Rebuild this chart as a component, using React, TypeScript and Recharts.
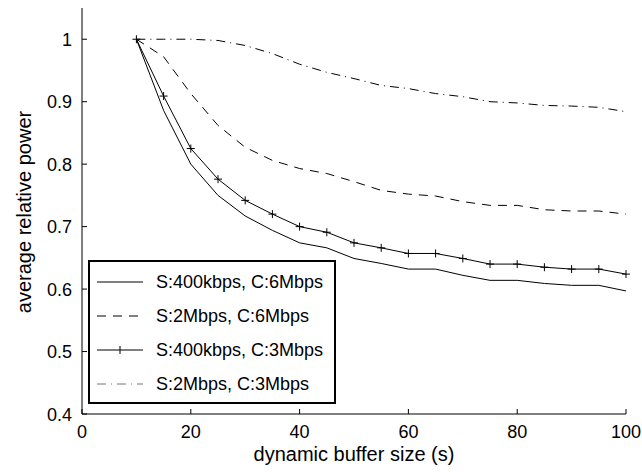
import { CartesianGrid, Legend, Line, LineChart, XAxis, YAxis } from "recharts";

// buffer sizes (s) on the x axis
const bufferSizes = [10, 15, 20, 25, 30, 35, 40, 45, 50, 55, 60, 65, 70, 75, 80, 85, 90, 95, 100];

// average relative power per configuration
const s400c6 = [1, 0.886, 0.8, 0.75, 0.717, 0.694, 0.674, 0.666, 0.649, 0.641, 0.632, 0.632, 0.622, 0.614, 0.614, 0.609, 0.606, 0.606, 0.597];
const s2c6 = [1, 0.972, 0.913, 0.862, 0.827, 0.806, 0.793, 0.785, 0.772, 0.758, 0.752, 0.749, 0.74, 0.734, 0.734, 0.727, 0.725, 0.725, 0.72];
const s400c3 = [1, 0.909, 0.825, 0.776, 0.742, 0.72, 0.7, 0.691, 0.674, 0.666, 0.657, 0.657, 0.649, 0.64, 0.64, 0.635, 0.632, 0.632, 0.624];
const s2c3 = [1, 1, 1, 0.998, 0.99, 0.977, 0.96, 0.947, 0.937, 0.926, 0.921, 0.913, 0.908, 0.9, 0.898, 0.894, 0.893, 0.891, 0.884];

const xTicks = [0, 20, 40, 60, 80, 100];
const yTicks = [0.4, 0.5, 0.6, 0.7, 0.8, 0.9, 1];

const seriesNames = ["S:400kbps, C:6Mbps", "S:2Mbps, C:6Mbps", "S:400kbps, C:3Mbps", "S:2Mbps, C:3Mbps"];

const FONT = "Arial, 'Liberation Sans', Helvetica, sans-serif";
const DASH = "9 7";
const DASH_DOT = "9 5 1 5";

const data = bufferSizes.map((size, i) => ({
  size,
  a: s400c6[i],
  b: s2c6[i],
  c: s400c3[i],
  d: s2c3[i],
}));

const PlusDot = ({ cx, cy }: any) => {
  if (cx == null || cy == null) return null;
  return (
    <g stroke="#000" strokeWidth={1}>
      <line x1={cx - 4} y1={cy} x2={cx + 4} y2={cy} />
      <line x1={cx} y1={cy - 4} x2={cx} y2={cy + 4} />
    </g>
  );
};

const XTick = ({ x, y, payload }: any) => (
  <g>
    {/* 틱은 안쪽으로 */}
    <line x1={x} y1={y} x2={x} y2={y - 5} stroke="#000" />
    <text x={x} y={y + 24} textAnchor="middle" fontSize={18} fontFamily={FONT} fill="#000">
      {payload.value}
    </text>
  </g>
);

const YTick = ({ x, y, payload }: any) => (
  <g>
    <line x1={x} y1={y} x2={x + 5} y2={y} stroke="#000" />
    <text x={x - 10} y={y + 6.5} textAnchor="end" fontSize={18} fontFamily={FONT} fill="#000">
      {payload.value}
    </text>
  </g>
);

const styles = [
  { dash: undefined, plus: false },
  { dash: DASH, plus: false },
  { dash: undefined, plus: true },
  { dash: DASH_DOT, plus: false },
];

const LegendBox = () => (
  <div
    style={{
      width: 248,
      height: 144,
      boxSizing: "border-box",
      border: "2px solid #000",
      background: "#fff",
      paddingTop: 3,
      fontFamily: FONT,
      fontSize: 18,
    }}
  >
    {seriesNames.map((name, i) => (
      <div key={name} style={{ display: "flex", alignItems: "center", height: 34 }}>
        <svg width={46} height={12} style={{ marginLeft: 7, marginRight: 13 }}>
          <line x1={0} y1={6} x2={46} y2={6} stroke={i === 3 ? "#777" : "#000"} strokeDasharray={styles[i].dash} />
          {styles[i].plus && <line x1={23} y1={2} x2={23} y2={10} stroke="#000" />}
        </svg>
        <span style={{ color: "#000", whiteSpace: "nowrap" }}>{name}</span>
      </div>
    ))}
  </div>
);

export default function App() {
  return (
    <div style={{ position: "absolute", left: 0, top: 0, background: "#fff" }}>
      <LineChart width={642} height={472} data={data} margin={{ top: 8, right: 16, left: 0, bottom: 0 }}>
        <CartesianGrid stroke="none" />
        <XAxis
          dataKey="size"
          type="number"
          domain={[0, 100]}
          ticks={xTicks}
          height={58}
          tickSize={0}
          tickMargin={0}
          tickLine={false}
          axisLine={{ stroke: "#000" }}
          tick={<XTick />}
          interval={0}
          label={{
            content: ({ viewBox }: any) => (
              <text
                x={viewBox.x + viewBox.width / 2}
                y={viewBox.y + 47}
                textAnchor="middle"
                fontSize={20}
                fontFamily={FONT}
                fill="#000"
              >
                dynamic buffer size (s)
              </text>
            ),
          }}
        />
        <YAxis
          type="number"
          domain={[0.4, 1.05]}
          ticks={yTicks}
          width={82}
          tickSize={0}
          tickMargin={0}
          tickLine={false}
          axisLine={{ stroke: "#000" }}
          tick={<YTick />}
          interval={0}
          allowDataOverflow
          label={{
            content: ({ viewBox }: any) => {
              const cx = viewBox.x + 31;
              const cy = viewBox.y + viewBox.height / 2 + 1;
              return (
                <text
                  x={cx}
                  y={cy}
                  transform={`rotate(-90, ${cx}, ${cy})`}
                  textAnchor="middle"
                  fontSize={20}
                  fontFamily={FONT}
                  fill="#000"
                >
                  average relative power
                </text>
              );
            },
          }}
        />
        <Line dataKey="a" name={seriesNames[0]} stroke="#000" strokeWidth={1} dot={false} isAnimationActive={false} />
        <Line dataKey="b" name={seriesNames[1]} stroke="#000" strokeWidth={1} strokeDasharray={DASH} dot={false} isAnimationActive={false} />
        <Line dataKey="c" name={seriesNames[2]} stroke="#000" strokeWidth={1} dot={<PlusDot />} isAnimationActive={false} />
        <Line dataKey="d" name={seriesNames[3]} stroke="#000" strokeWidth={1} strokeDasharray={DASH_DOT} dot={false} isAnimationActive={false} />
        <Legend
          layout="horizontal"
          verticalAlign="middle"
          align="center"
          content={<LegendBox />}
          wrapperStyle={{ left: 88, top: 260, width: 248, height: 144 }}
        />
      </LineChart>
    </div>
  );
}
